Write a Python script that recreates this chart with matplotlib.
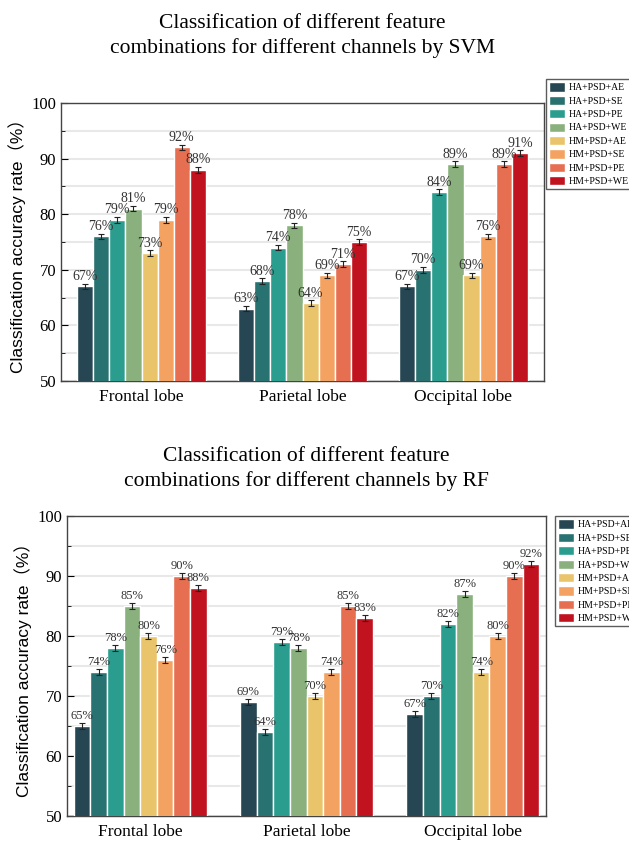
import numpy as np
import matplotlib
matplotlib.use("Agg")
import matplotlib.pyplot as plt

lobes = ["Frontal lobe", "Parietal lobe", "Occipital lobe"]
combos = ["HA+PSD+AE", "HA+PSD+SE", "HA+PSD+PE", "HA+PSD+WE",
          "HM+PSD+AE", "HM+PSD+SE", "HM+PSD+PE", "HM+PSD+WE"]
colors = ["#264653", "#287271", "#2a9d8f", "#8ab17d",
          "#e9c46a", "#f4a261", "#e76f51", "#c1121f"]

# rows = feature combos, cols = lobes
svm_acc = [
    [67, 63, 67],
    [76, 68, 70],
    [79, 74, 84],
    [81, 78, 89],
    [73, 64, 69],
    [79, 69, 76],
    [92, 71, 89],
    [88, 75, 91],
]
rf_acc = [
    [65, 69, 67],
    [74, 64, 70],
    [78, 79, 82],
    [85, 78, 87],
    [80, 70, 74],
    [76, 74, 80],
    [90, 85, 90],
    [88, 83, 92],
]
err = 0.5

W, H = 629, 841
serif = "Liberation Serif"
sans = ["Liberation Sans", "Noto Sans CJK SC"]


def px_axes(fig, left, top, right, bottom):
    return fig.add_axes([left / W, 1 - bottom / H, (right - left) / W, (bottom - top) / H])


def draw_panel(fig, box, data, title, title_y, xlim, legend_xy, label_fs):
    ax = px_axes(fig, *box)
    x = np.arange(len(lobes))
    bw = 0.1
    for i, (name, vals) in enumerate(zip(combos, data)):
        pos = x + (i - 3.5) * bw
        ax.bar(pos, vals, bw, color=colors[i], edgecolor="white", linewidth=1.0,
               label=name, zorder=3)
        ax.errorbar(pos, vals, yerr=err, fmt="none", ecolor="#222222",
                    elinewidth=0.8, capsize=2, capthick=0.8, zorder=4)
        for p, v in zip(pos, vals):
            ax.text(p, v + err + 0.1, f"{v}%", ha="center", va="bottom",
                    fontsize=label_fs, family=serif, color="#333333", zorder=5)
    ax.set_ylim(50, 100)
    ax.set_xlim(*xlim)
    ax.set_yticks(np.arange(50, 101, 10))
    ax.set_yticks(np.arange(55, 100, 10), minor=True)
    ax.yaxis.grid(True, which="both", color="#e8e8e8", linewidth=1.5, zorder=0)
    ax.set_axisbelow(True)
    ax.tick_params(axis="y", which="major", direction="in", length=5, labelsize=12)
    ax.tick_params(axis="y", which="minor", direction="in", length=3)
    for lbl in ax.get_yticklabels():
        lbl.set_family(serif)
    ax.set_xticks(x)
    ax.set_xticklabels(lobes, family=serif, fontsize=12.5)
    ax.tick_params(axis="x", length=0, pad=6)
    ax.set_ylabel("Classification accuracy rate（%）", family=sans, fontsize=12.5)
    for s in ax.spines.values():
        s.set_color("#444444")
        s.set_linewidth(1.0)
    cx = (box[0] + box[2]) / 2 / W
    fig.text(cx, 1 - title_y / H, title, ha="center", va="center",
             family=serif, fontsize=15.5, linespacing=1.35)
    ax.legend(loc="upper left", bbox_to_anchor=(legend_xy[0] / W, 1 - legend_xy[1] / H),
              bbox_transform=fig.transFigure,
              prop={"family": serif, "size": 7}, frameon=True, fancybox=False,
              edgecolor="#333333", handlelength=1.6, handleheight=1.1,
              labelspacing=0.35, borderpad=0.35, handletextpad=0.35,
              borderaxespad=0)
    return ax


fig = plt.figure(figsize=(W / 100, H / 100), dpi=100)
draw_panel(fig, (61, 103, 544, 381), svm_acc,
           "Classification of different feature\ncombinations for different channels by SVM",
           36, (-0.5, 2.5), (546, 79), 10)
draw_panel(fig, (67, 516, 546, 816), rf_acc,
           "Classification of different feature\ncombinations for different channels by RF",
           469, (-0.44, 2.44), (555, 516), 9)
fig.savefig("out.png", dpi=100)
